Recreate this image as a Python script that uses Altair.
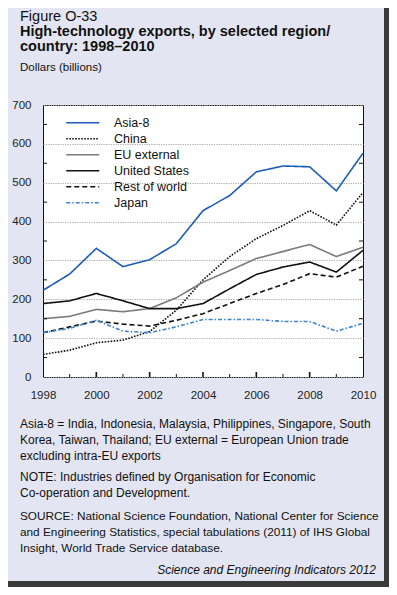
import altair as alt
import pandas as pd

years = list(range(1998, 2011))
series_names = ["Asia-8", "China", "EU external", "United States", "Rest of world", "Japan"]
asia8 = [223, 265, 331, 284, 302, 343, 428, 467, 528, 543, 541, 479, 576]
china = [58, 69, 88, 95, 117, 172, 250, 310, 356, 390, 428, 391, 475]
eu_external = [150, 156, 174, 168, 176, 204, 244, 274, 305, 323, 341, 310, 334]
united_states = [189, 196, 215, 196, 176, 176, 189, 227, 264, 283, 296, 270, 326]
rest_of_world = [114, 129, 144, 136, 131, 146, 163, 189, 215, 238, 266, 257, 285]
japan = [114, 125, 146, 118, 114, 129, 148, 148, 148, 143, 143, 118, 138]

y_labels = [0, 100, 200, 300, 400, 500, 600, 700]
y_minor = [50, 150, 250, 350, 450, 550, 650]
x_labels = [1998, 2000, 2002, 2004, 2006, 2008, 2010]

colors = ["#1b5cb5", "#111111", "#7a7a7a", "#111111", "#111111", "#3b82d6"]
dashes = [[1, 0], [1.6, 1.4], [1, 0], [1, 0], [5, 3], [4, 2, 1.5, 2]]
widths = [1.6, 1.6, 2.0, 2.4, 1.6, 1.6]

W, H = 320, 272
CW, CH = 381, 579
PAD = {"left": 35, "top": 97, "right": CW - 35 - W, "bottom": CH - 97 - H}

rows = []
for name, vals in zip(series_names, [asia8, china, eu_external, united_states, rest_of_world, japan]):
    for yr, v in zip(years, vals):
        rows.append({"series": name, "year": yr, "value": v})
df = pd.DataFrame(rows)

xscale = alt.Scale(domain=[1998, 2010], nice=False, zero=False)
yscale = alt.Scale(domain=[0, 700], nice=False)
xaxis = alt.Axis(values=x_labels, format="d", ticks=False, domain=False, grid=False, labelPadding=12,
                 labelFontSize=11.5, labelFont="Liberation Sans", labelColor="#222", title=None,
                 labelFlush=False, labelOverlap=False)
yaxis = alt.Axis(values=y_labels, ticks=False, domain=False, grid=True, gridDash=[1.2, 1.2],
                 gridColor="#a8a8a8", gridWidth=1, labelPadding=12, labelFontSize=11.5, labelOverlap=False,
                 labelFont="Liberation Sans", labelColor="#222", title=None)

legend = alt.Legend(
    title=None, orient="none", legendX=33.5, legendY=11.5, padding=0,
    symbolType="M-3.3,0H3.3", symbolSize=100, labelFontSize=12.5, labelFont="Liberation Sans",
    labelColor="#111", labelOffset=25, rowPadding=3, symbolStrokeColor="#111",
)

lines = alt.Chart(df).mark_line(strokeCap="butt").encode(
    x=alt.X("year:Q", scale=xscale, axis=xaxis),
    y=alt.Y("value:Q", scale=yscale, axis=yaxis),
    color=alt.Color("series:N", scale=alt.Scale(domain=series_names, range=colors), legend=legend),
    strokeDash=alt.StrokeDash("series:N", scale=alt.Scale(domain=series_names, range=dashes), legend=legend),
    strokeWidth=alt.StrokeWidth("series:N", scale=alt.Scale(domain=series_names, range=widths), legend=legend),
    order=alt.Order("year:Q"),
)

minor_df = pd.DataFrame({"value": y_minor})
left_ticks = alt.Chart(minor_df).mark_rule(color="#111", strokeWidth=1).encode(
    y=alt.Y("value:Q", scale=yscale, axis=yaxis), x=alt.value(0), x2=alt.value(4))
right_ticks = alt.Chart(minor_df).mark_rule(color="#111", strokeWidth=1).encode(
    y=alt.Y("value:Q", scale=yscale, axis=yaxis), x=alt.value(W - 4), x2=alt.value(W))

odd_years = pd.DataFrame({"year": [y for y in years[1:-1] if y % 2 == 1]})
even_years = pd.DataFrame({"year": [y for y in years[1:-1] if y % 2 == 0]})
xt_small = alt.Chart(odd_years).mark_rule(color="#111", strokeWidth=1).encode(
    x=alt.X("year:Q", scale=xscale, axis=xaxis), y=alt.value(H), y2=alt.value(H - 3))
xt_big = alt.Chart(even_years).mark_rule(color="#111", strokeWidth=1.6).encode(
    x=alt.X("year:Q", scale=xscale, axis=xaxis), y=alt.value(H), y2=alt.value(H - 5))


def text_block(lines_, x, y, size=12, weight="normal", style="normal", align="left", lh=16):
    d = pd.DataFrame({"t": [lines_]})
    return alt.Chart(d).mark_text(
        align=align, baseline="middle", fontSize=size, fontWeight=weight, fontStyle=style,
        font="Liberation Sans", color="#111", lineHeight=lh,
    ).encode(text=alt.Text("t"), x=alt.value(x), y=alt.value(y))


OX, OY = 43, 105  # page coords of plot origin
fig = text_block(["Figure O-33"], 20 - OX, 17 - OY, size=14.5)
title = text_block(["High-technology exports, by selected region/", "country: 1998\u20132010"],
                   20 - OX, 32 - OY, size=14.5, weight="bold", lh=15)
unit = text_block(["Dollars (billions)"], 20 - OX, 68 - OY, size=11.5)
note1 = text_block(["Asia-8 = India, Indonesia, Malaysia, Philippines, Singapore, South",
                    "Korea, Taiwan, Thailand; EU external = European Union trade",
                    "excluding intra-EU exports"], 20 - OX, 424 - OY, size=12)
note2 = text_block(["NOTE: Industries defined by Organisation for Economic",
                    "Co-operation and Development."], 20 - OX, 477 - OY, size=12)
note3 = text_block(["SOURCE: National Science Foundation, National Center for Science",
                    "and Engineering Statistics, special tabulations (2011) of IHS Global",
                    "Insight, World Trade Service database."], 20 - OX, 516 - OY, size=11.8)
credit = text_block(["Science and Engineering Indicators 2012"], 376 - OX, 570 - OY, size=12,
                    style="italic", align="right")

frame_df = pd.DataFrame({"k": [0]})
right_strip = alt.Chart(frame_df).mark_rect(color="#3a3a3a").encode(
    x=alt.value(CW + 8 - 5 - OX), x2=alt.value(CW + 8 - OX), y=alt.value(8 - OY), y2=alt.value(CH + 8 - OY))
bottom_strip = alt.Chart(frame_df).mark_rect(color="#3a3a3a").encode(
    x=alt.value(8 - OX), x2=alt.value(CW + 8 - OX), y=alt.value(CH + 8 - 6 - OY), y2=alt.value(CH + 8 - OY))

chart = alt.layer(
    lines, left_ticks, right_ticks, xt_small, xt_big,
    fig, title, unit, note1, note2, note3, credit, right_strip, bottom_strip,
).properties(
    width=W, height=H, padding=PAD, autosize=alt.AutoSizeParams(type="none"),
).configure(background="#e3e6f2").configure_view(fill="white", stroke="#111", strokeWidth=1)

chart.save("out.html", embed_options={"renderer": "svg", "actions": False})
